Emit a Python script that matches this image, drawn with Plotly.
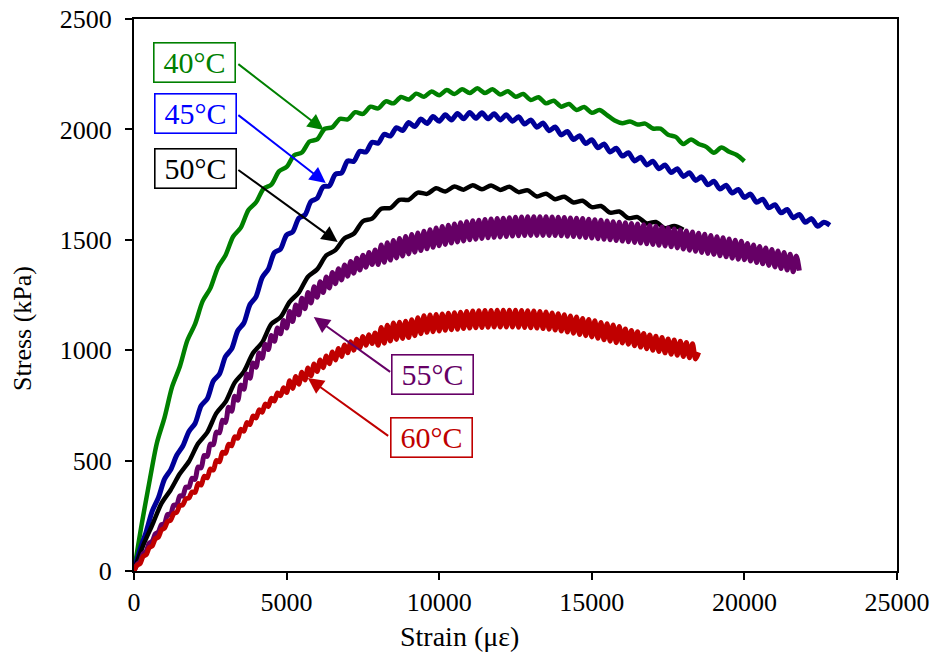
import plotly.graph_objects as go

# Stress–strain records for each test temperature (stress in kPa, sampled at a fixed strain interval in με)
STRAIN_STEP_40 = 250
stress_40 = [
    0, 210, 400, 580, 695, 835, 925, 1045, 1118, 1222, 1280, 1375, 1430, 1515, 1555, 1635,
    1670, 1732, 1750, 1810, 1830, 1883, 1895, 1945, 1955, 2003, 2010, 2048, 2045, 2078, 2070,
    2103, 2095, 2127, 2118, 2147, 2135, 2162, 2148, 2172, 2155, 2178, 2160, 2182, 2165, 2186,
    2165, 2182, 2158, 2173, 2148, 2160, 2133, 2146, 2118, 2130, 2103, 2115, 2088, 2101, 2075,
    2088, 2065, 2040, 2028, 2036, 2022, 2026, 2004, 2003, 1976, 1966, 1934, 1954, 1934, 1921,
    1894, 1918, 1899, 1884, 1856,
]

STRAIN_STEP_45 = 200
stress_45 = [
    0, 98, 178, 272, 332, 416, 458, 524, 566, 632, 668, 748, 780, 860, 892, 972, 1006, 1088,
    1123, 1207, 1243, 1329, 1367, 1442, 1458, 1522, 1536, 1598, 1612, 1674, 1688, 1740, 1744,
    1797, 1803, 1857, 1855, 1901, 1898, 1942, 1938, 1978, 1970, 2008, 1995, 2031, 2013, 2047,
    2027, 2058, 2037, 2066, 2043, 2072, 2048, 2077, 2050, 2075, 2048, 2071, 2043, 2066, 2037,
    2057, 2024, 2043, 2010, 2029, 1994, 2011, 1975, 1991, 1954, 1971, 1936, 1953, 1917, 1934,
    1898, 1915, 1879, 1894, 1857, 1874, 1839, 1856, 1822, 1839, 1805, 1822, 1787, 1804, 1769,
    1785, 1749, 1765, 1730, 1747, 1712, 1728, 1692, 1707, 1670, 1684, 1645, 1659, 1622, 1637,
    1600, 1615, 1579, 1596, 1561, 1579, 1566,
]

STRAIN_STEP_50 = 300
stress_50 = [
    0, 116, 209, 306, 367, 440, 496, 577, 628, 715, 766, 853, 903, 987, 1035, 1119, 1149,
    1219, 1261, 1333, 1366, 1429, 1453, 1507, 1527, 1584, 1596, 1641, 1644, 1681, 1681, 1714,
    1708, 1733, 1719, 1741, 1727, 1747, 1729, 1746, 1726, 1740, 1716, 1724, 1696, 1709, 1684,
    1695, 1669, 1677, 1648, 1653, 1623, 1628, 1598, 1603, 1574, 1581, 1552, 1562, 1545,
]

STRAIN_STEP_55 = 100
stress_55 = [
    0, 30, 42, 78, 90, 126, 135, 168, 177, 210, 215, 256, 257, 298, 299, 340, 340, 380, 380,
    420, 415, 471, 467, 523, 519, 575, 572, 629, 626, 683, 673, 742, 723, 792, 773, 842, 823,
    892, 873, 942, 923, 987, 963, 1027, 1003, 1067, 1040, 1101, 1074, 1135, 1100, 1175, 1130,
    1205, 1160, 1235, 1188, 1261, 1214, 1287, 1240, 1310, 1261, 1331, 1282, 1352, 1301, 1369,
    1318, 1386, 1335, 1402, 1349, 1416, 1363, 1430, 1376, 1442, 1388, 1454, 1388, 1477, 1398,
    1487, 1408, 1497, 1418, 1506, 1427, 1515, 1436, 1524, 1444, 1531, 1451, 1539, 1459, 1546,
    1466, 1553, 1473, 1560, 1479, 1566, 1485, 1572, 1490, 1577, 1495, 1582, 1500, 1586, 1503,
    1589, 1506, 1592, 1509, 1594, 1511, 1596, 1513, 1598, 1515, 1600, 1517, 1602, 1518, 1603,
    1519, 1604, 1520, 1604, 1520, 1604, 1520, 1604, 1520, 1603, 1519, 1602, 1518, 1601, 1516,
    1599, 1515, 1598, 1513, 1596, 1510, 1593, 1508, 1591, 1505, 1588, 1502, 1585, 1500, 1582,
    1497, 1579, 1494, 1577, 1491, 1574, 1488, 1571, 1485, 1568, 1482, 1565, 1479, 1561, 1475,
    1558, 1472, 1554, 1468, 1549, 1463, 1544, 1458, 1540, 1453, 1535, 1448, 1530, 1443, 1525,
    1438, 1520, 1433, 1514, 1428, 1509, 1423, 1504, 1417, 1498, 1412, 1493, 1410, 1483, 1404,
    1476, 1397, 1470, 1391, 1463, 1384, 1456, 1377, 1449, 1370, 1442, 1363, 1435, 1355, 1427,
    1360,
]

STRAIN_STEP_60 = 100
stress_60 = [
    0, 26, 34, 66, 74, 106, 114, 146, 154, 186, 194, 224, 230, 260, 266, 296, 300, 327, 331,
    358, 356, 396, 389, 429, 422, 462, 457, 500, 495, 538, 533, 574, 567, 608, 601, 642, 633,
    672, 663, 702, 693, 730, 719, 756, 745, 782, 770, 806, 794, 830, 808, 862, 827, 881, 846,
    900, 865, 919, 884, 938, 903, 956, 921, 974, 939, 992, 956, 1008, 972, 1024, 988, 1038,
    1000, 1050, 1012, 1062, 1022, 1070, 1030, 1078, 1022, 1103, 1032, 1113, 1042, 1123, 1049,
    1127, 1053, 1131, 1057, 1138, 1066, 1147, 1075, 1156, 1081, 1159, 1084, 1162, 1087, 1164,
    1090, 1167, 1093, 1170, 1095, 1172, 1098, 1175, 1100, 1177, 1102, 1179, 1103, 1180, 1104,
    1180, 1105, 1181, 1105, 1181, 1105, 1181, 1105, 1181, 1104, 1180, 1103, 1179, 1102, 1177,
    1100, 1175, 1098, 1173, 1095, 1169, 1091, 1165, 1087, 1160, 1082, 1155, 1077, 1150, 1071,
    1144, 1066, 1139, 1060, 1133, 1054, 1126, 1047, 1120, 1041, 1114, 1034, 1107, 1033, 1096,
    1027, 1089, 1020, 1083, 1014, 1076, 1007, 1069, 1000, 1063, 994, 1057, 988, 1051, 982,
    1046, 977, 1041, 972, 1035, 966, 1029, 960, 990,
]

series = [
    ("40°C", STRAIN_STEP_40, stress_40, "#008000", 4.5),
    ("45°C", STRAIN_STEP_45, stress_45, "#000099", 5),
    ("50°C", STRAIN_STEP_50, stress_50, "#000000", 4.5),
    ("55°C", STRAIN_STEP_55, stress_55, "#660066", 5),
    ("60°C", STRAIN_STEP_60, stress_60, "#C00000", 5),
]

x_ticks = [0, 5000, 10000, 15000, 20000, 25000]
y_ticks = [0, 500, 1000, 1500, 2000, 2500]

FONT = "Liberation Serif, Times New Roman, serif"

fig = go.Figure()
for name, step, stress, color, width in series:
    strain = [i * step for i in range(len(stress))]
    fig.add_trace(go.Scatter(
        x=strain, y=stress, mode="lines", name=name,
        line=dict(color=color, width=width, shape="spline", smoothing=0.8),
        showlegend=False, hoverinfo="skip",
    ))

# Labelled callouts: (text, text colour, box centre, arrow tail, arrow head) in data units
callouts = [
    ("40°C", "#008000", (1996, 2301), (3370, 2301), (6217, 1997)),
    ("45°C", "#0000FF", (2030, 2072), (3370, 2070), (6283, 1757)),
    ("50°C", "#000000", (2030, 1823), (3370, 1821), (6675, 1490)),
    ("55°C", "#660066", (9787, 892), (8442, 897), (5890, 1150)),
    ("60°C", "#C00000", (9755, 603), (8377, 607), (5694, 874)),
]

annotations = []
for text, color, (bx, by), (tx, ty), (hx, hy) in callouts:
    annotations.append(dict(
        x=hx, y=hy, ax=tx, ay=ty, xref="x", yref="y", axref="x", ayref="y",
        text="", showarrow=True, arrowhead=2, arrowsize=1.6, arrowwidth=2,
        arrowcolor=color, standoff=0,
    ))
    annotations.append(dict(
        x=bx, y=by, xref="x", yref="y", text=text, showarrow=False,
        font=dict(family=FONT, size=30, color=color),
        bgcolor="white", bordercolor=color, borderwidth=1.6, borderpad=0,
        width=80, height=38, xanchor="center", yanchor="middle",
    ))

annotations.append(dict(
    x=0.427, y=-0.118, xref="paper", yref="paper", text="Strain (με)",
    showarrow=False, font=dict(family=FONT, size=28, color="black"),
    xanchor="center", yanchor="middle",
))
annotations.append(dict(
    x=-0.147, y=0.44, xref="paper", yref="paper", text="Stress (kPa)",
    showarrow=False, font=dict(family=FONT, size=26, color="black"),
    textangle=-90, xanchor="center", yanchor="middle",
))

fig.update_layout(
    width=940, height=658,
    margin=dict(l=134, r=43, t=19, b=87, autoexpand=False),
    paper_bgcolor="white", plot_bgcolor="white",
    font=dict(family=FONT, size=26, color="black"),
    annotations=annotations,
)
fig.update_xaxes(
    range=[0, 25000], tickvals=x_ticks, ticktext=[str(v) for v in x_ticks],
    ticks="outside", ticklen=7, tickwidth=1.5, tickcolor="black",
    showline=True, linecolor="black", linewidth=2, mirror=True,
    showgrid=False, zeroline=False, automargin=False,
    tickfont=dict(family=FONT, size=26, color="black"),
)
fig.update_yaxes(
    range=[0, 2500], tickvals=y_ticks, ticktext=[str(v) for v in y_ticks],
    ticks="outside", ticklen=7, tickwidth=1.5, tickcolor="black",
    showline=True, linecolor="black", linewidth=2, mirror=True,
    showgrid=False, zeroline=False, ticklabelstandoff=8, automargin=False,
    tickfont=dict(family=FONT, size=26, color="black"),
)

fig.write_html("out.html")
